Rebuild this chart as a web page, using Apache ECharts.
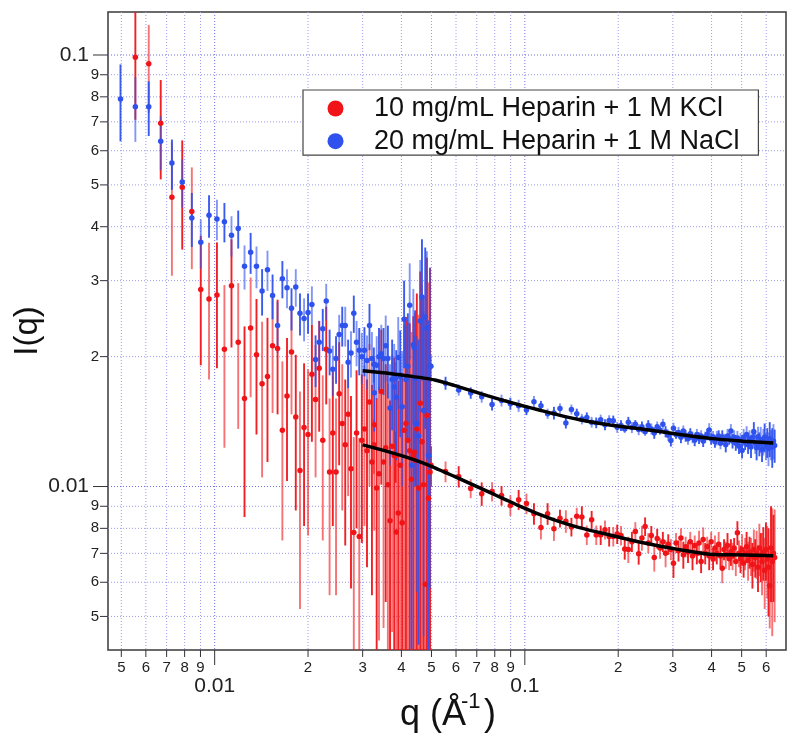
<!DOCTYPE html>
<html><head><meta charset="utf-8">
<script src="https://cdn.jsdelivr.net/npm/echarts@6/dist/echarts.min.js"></script>
<style>html,body{margin:0;padding:0;background:#fff}#c{width:800px;height:743px}</style>
</head><body><div id="c"></div>
<script>
// ---------- data ----------
// low-q data set (q in 1/Angstrom)
const qA = [0.00497,0.00555,0.00613,0.00670,0.00728,0.00786,0.00844,0.00902,0.00959,0.01017,
0.01075,0.01133,0.01191,0.01248,0.01306,0.01364,0.01422,0.01480,0.01537,0.01595,
0.01653,0.01711,0.01769,0.01826,0.01884,0.01942,0.02000,0.02058,0.02115,0.02173,
0.02231,0.02289,0.02347,0.02404,0.02462,0.02520,0.02578,0.02636,0.02693,0.02751,
0.02809,0.02867,0.02925,0.02982,0.03040,0.03098,0.03156,0.03214,0.03271,0.03329,
0.03387,0.03445,0.03503,0.03560,0.03618,0.03676,0.03734,0.03792,0.03849,0.03907,
0.03965,0.04023,0.04081,0.04138,0.04196,0.04254,0.04312,0.04370,0.04427,0.04485,
0.04543,0.04601,0.04659,0.04716,0.04774,0.04832,0.04890,0.04948];
const blueA = [0.0791,0.0759,0.0759,0.0631,0.0562,0.0508,0.0419,0.0368,0.0425,0.0417,
0.0411,0.0382,0.0396,0.0324,0.0349,0.0324,0.0284,0.0318,0.0277,0.0236,
0.0303,0.0289,0.0259,0.0290,0.0252,0.0245,0.0253,0.0264,0.0197,0.0216,
0.0232,0.0269,0.0206,0.0187,0.0198,0.0225,0.0236,0.0236,0.0194,0.0204,
0.0252,0.0216,0.0207,0.0200,0.0207,0.0196,0.0236,0.0198,0.0165,0.0191,
0.0200,0.0203,0.0198,0.0212,0.0198,0.0152,0.0177,0.0170,0.0161,0.0199,
0.0180,0.0153,0.0244,0.0177,0.0190,0.0263,0.0112,0.0213,0.0178,0.0140,
0.0131,0.0242,0.0275,0.0150,0.0247,0.0233,0.0118,0.0190];
const blueAErr = [0.016,0.013,0.011,0.009,0.0075,0.0065,0.006,0.0048,0.0048,0.0045,
0.0043,0.0041,0.0040,0.0038,0.0038,0.0036,0.0035,0.0034,0.0033,0.0032,
0.0030,0.0030,0.0029,0.0029,0.0028,0.0028,0.0027,0.0027,0.0027,0.0026,
0.0026,0.0026,0.0025,0.0025,0.0025,0.0025,0.0025,0.0025,0.0025,0.0025,
0.0025,0.0026,0.0026,0.0027,0.0027,0.0028,0.0029,0.0030,0.0031,0.0032,
0.0033,0.0034,0.0035,0.0037,0.0038,0.0040,0.0042,0.0044,0.0046,0.0048,
0.0050,0.0053,0.0056,0.0059,0.0062,0.0066,0.0070,0.0074,0.0078,0.0083,
0.0088,0.0093,0.0099,0.0105,0.0111,0.0118,0.0125,0.0132];
const redA = [null,0.0988,0.0954,0.0695,0.0468,0.0494,0.0434,0.0286,0.0272,0.0278,
0.0208,0.0292,0.0216,0.0160,0.0233,0.0202,0.0173,0.0180,0.0212,0.0209,
0.0135,0.0162,0.0205,0.0145,0.0109,0.0137,0.0132,0.0182,0.0159,0.0188,
0.0128,0.0208,0.0108,0.0133,0.0108,0.0164,0.0140,0.0125,0.0147,0.0110,
0.00782,0.0133,0.00766,0.0128,0.0136,0.0121,0.0157,0.0114,0.0139,0.00992,
0.0107,0.0166,0.0114,0.0123,0.0101,0.00833,0.0124,0.0118,0.00785,0.00868,
0.0112,0.00824,0.0135,0.0140,0.0128,0.0121,0.0104,0.0118,0.0115,0.0136,
0.00992,0.0156,0.0127,0.0101,0.00594,0.0146,0.00940,0.0108];
const redAErr = [null,0.028,0.022,0.018,0.016,0.014,0.0115,0.0095,0.0095,0.009,
0.0085,0.0082,0.008,0.0075,0.0072,0.007,0.0068,0.0066,0.0064,0.0062,
0.006,0.0059,0.0058,0.0057,0.0057,0.0056,0.0055,0.0055,0.0054,0.0054,
0.0053,0.0053,0.0052,0.0052,0.0052,0.0052,0.0052,0.0052,0.0052,0.0052,
0.0052,0.0053,0.0053,0.0054,0.0055,0.0056,0.0057,0.0058,0.0060,0.0061,
0.0063,0.0065,0.0067,0.0069,0.0072,0.0075,0.0078,0.0081,0.0085,0.0089,
0.0093,0.0097,0.0102,0.0107,0.0112,0.0118,0.0124,0.0130,0.0137,0.0144,
0.0151,0.0159,0.0167,0.0175,0.0184,0.0193,0.0203,0.0213];

// high-q data set
const qB = [0.0326,0.0383,0.0440,0.0498,0.0555,0.0612,0.0669,0.0726,0.0784,0.0841,
0.0898,0.0955,0.1012,0.1070,0.1127,0.1184,0.1241,0.1298,0.1356,0.1413,
0.1470,0.1527,0.1584,0.1642,0.1699,0.1756,0.1813,0.1870,0.1928,0.1985,
0.2042,0.2099,0.2156,0.2214,0.2271,0.2328,0.2385,0.2442,0.2500,0.2557,
0.2614,0.2671,0.2728,0.2786,0.2843,0.2900,0.2957,0.3014,0.3072,0.3129,
0.3186,0.3243,0.3300,0.3358,0.3415,0.3472,0.3529,0.3586,0.3644,0.3701,
0.3758,0.3815,0.3872,0.3930,0.3987,0.4044,0.4101,0.4158,0.4216,0.4273,
0.4330,0.4387,0.4444,0.4502,0.4559,0.4616,0.4673,0.4730,0.4788,0.4845,
0.4902,0.4959,0.5016,0.5074,0.5131,0.5188,0.5245,0.5302,0.5360,0.5417,
0.5474,0.5531,0.5588,0.5646,0.5703,0.5760,0.5817,0.5874,0.5932,0.5989,
0.6046,0.6103,0.6160,0.6218,0.6275,0.6332,0.6389];
const blueB = [0.0192,0.0178,0.0210,0.0190,0.01736,0.01674,0.01647,0.01614,0.01550,0.01583,
0.01556,0.01539,0.01504,0.01572,0.01539,0.01475,0.01480,0.01517,0.01403,0.01509,
0.01475,0.01433,0.01445,0.01410,0.01405,0.01428,0.01391,0.01423,0.01420,0.01372,
0.01385,0.01360,0.01410,0.01370,0.01395,0.01355,0.01375,0.01340,0.01385,0.01360,
0.01330,0.01375,0.01350,0.01395,0.01340,0.01315,0.01278,0.01365,0.01320,0.01335,
0.01300,0.01345,0.01310,0.01290,0.01325,0.01300,0.01280,0.01320,0.01295,0.01310,
0.01275,0.01300,0.01320,0.01352,0.01290,0.01305,0.01270,0.01295,0.01310,0.01260,
0.01300,0.01285,0.01250,0.01310,0.01290,0.01345,0.01275,0.01300,0.01260,0.01295,
0.01240,0.01280,0.01212,0.01300,0.01265,0.01320,0.01250,0.01290,0.01235,0.01300,
0.01340,0.01260,0.01230,0.01305,0.01255,0.01285,0.01220,0.01270,0.01300,0.01240,
0.01265,0.01225,0.01290,0.01250,0.01235,0.01275,0.01245];
const blueBErr = [0.0018,0.0016,0.0014,0.0012,0.0006,0.0005,0.0005,0.0005,0.0005,0.0005,
0.0005,0.0005,0.0004,0.0005,0.0004,0.0004,0.0005,0.0004,0.0004,0.0004,
0.0004,0.0004,0.0004,0.0004,0.0004,0.0004,0.0004,0.0004,0.0004,0.0004,
0.0004,0.0003,0.0004,0.0004,0.0003,0.0004,0.0004,0.0003,0.0004,0.0004,
0.0004,0.0004,0.0003,0.0004,0.0004,0.0004,0.0004,0.0004,0.0003,0.0004,
0.0004,0.0004,0.0004,0.0004,0.0004,0.0004,0.0004,0.0004,0.0004,0.0004,
0.0004,0.0004,0.0004,0.0005,0.0004,0.0004,0.0004,0.0005,0.0004,0.0004,
0.0005,0.0004,0.0005,0.0005,0.0004,0.0005,0.0005,0.0005,0.0005,0.0005,
0.0005,0.0005,0.0005,0.0006,0.0005,0.0006,0.0006,0.0006,0.0007,0.0006,
0.0007,0.0007,0.0008,0.0007,0.0008,0.0009,0.0008,0.0009,0.0010,0.0009,
0.0010,0.0011,0.0012,0.0010,0.0013,0.0012,0.0011];
const redB = [0.0125,0.0118,0.0120,0.0112,0.01083,0.01055,0.00990,0.00962,0.00974,0.00953,
0.00904,0.00932,0.00913,0.00865,0.00804,0.00865,0.00798,0.00844,0.00831,0.00806,
0.00853,0.00850,0.00772,0.00838,0.00772,0.00772,0.00794,0.00766,0.00766,0.00776,
0.00770,0.00717,0.00715,0.00745,0.00787,0.00699,0.00760,0.00808,0.00740,0.00770,
0.00685,0.00758,0.00720,0.00745,0.00700,0.00735,0.00715,0.00664,0.00740,0.00710,
0.00760,0.00695,0.00725,0.00705,0.00745,0.00690,0.00730,0.00700,0.00740,0.00670,
0.00754,0.00700,0.00725,0.00690,0.00745,0.00680,0.00720,0.00700,0.00735,0.00690,
0.00647,0.00715,0.00695,0.00730,0.00680,0.00705,0.00690,0.00720,0.00670,0.00781,
0.00700,0.00680,0.00715,0.00665,0.00700,0.00725,0.00675,0.00705,0.00690,0.00660,
0.00715,0.00685,0.00700,0.00650,0.00720,0.00690,0.00670,0.00705,0.00640,0.00715,
0.00680,0.00650,0.00589,0.00720,0.00670,0.00700,0.00685];
const redBErr = [0.0018,0.0016,0.0014,0.0012,0.0006,0.0006,0.0005,0.0006,0.0005,0.0005,
0.0005,0.0005,0.0005,0.0005,0.0005,0.0005,0.0005,0.0004,0.0005,0.0004,
0.0004,0.0005,0.0004,0.0004,0.0004,0.0004,0.0004,0.0004,0.0004,0.0004,
0.0004,0.0004,0.0005,0.0004,0.0004,0.0004,0.0005,0.0004,0.0004,0.0004,
0.0005,0.0004,0.0004,0.0004,0.0005,0.0004,0.0004,0.0005,0.0004,0.0004,
0.0004,0.0005,0.0004,0.0004,0.0004,0.0005,0.0004,0.0004,0.0005,0.0004,
0.0005,0.0004,0.0004,0.0005,0.0004,0.0004,0.0005,0.0004,0.0005,0.0004,
0.0005,0.0004,0.0005,0.0005,0.0004,0.0005,0.0005,0.0004,0.0005,0.0005,
0.0005,0.0005,0.0006,0.0005,0.0006,0.0006,0.0007,0.0006,0.0007,0.0008,
0.0008,0.0007,0.0009,0.0008,0.0010,0.0009,0.0011,0.0010,0.0012,0.0011,
0.0013,0.0015,0.0012,0.0018,0.0022,0.0016,0.0020];

// model fits
const fitQ    = [0.0300,0.0362,0.0410,0.0464,0.0513,0.0595,0.0673,0.0761,0.0862,0.0976,0.1104,0.1250,0.1500,0.1880,0.2407,0.3085,0.3953,0.5061,0.6324];
const fitBlue = [0.01856,0.01831,0.01808,0.01788,0.01765,0.01713,0.01667,0.01622,0.01580,0.01541,0.01506,0.01472,0.01428,0.01388,0.01358,0.01324,0.01293,0.01274,0.01261];
const fitRed  = [0.01249,0.01205,0.01173,0.01138,0.01105,0.01054,0.01013,0.00973,0.00934,0.00897,0.00864,0.00836,0.00803,0.00772,0.00741,0.00716,0.00697,0.00694,0.00691];

// axis ticks
const xMinorTicks  = [0.005,0.006,0.007,0.008,0.009,0.02,0.03,0.04,0.05,0.06,0.07,0.08,0.09,0.2,0.3,0.4,0.5,0.6];
const xMinorLabels = ['5','6','7','8','9','2','3','4','5','6','7','8','9','2','3','4','5','6'];
const xMajorTicks  = [0.01,0.1];
const xMajorLabels = ['0.01','0.1'];
const yMinorTicks  = [0.005,0.006,0.007,0.008,0.009,0.02,0.03,0.04,0.05,0.06,0.07,0.08,0.09];
const yMinorLabels = ['5','6','7','8','9','2','3','4','5','6','7','8','9'];
const yMajorTicks  = [0.01,0.1];
const yMajorLabels = ['0.01','0.1'];

const seriesNames = ['10 mg/mL Heparin + 1 M KCl','20 mg/mL Heparin + 1 M NaCl'];

// ---------- chart ----------
const X_MIN = 0.00453, X_MAX = 0.695, Y_MIN = 0.00418, Y_MAX = 0.1258;
const FONT = '"Liberation Sans", Arial, Helvetica, sans-serif';
const RED = '#f01418', BLUE = '#2f52ee';
const GRID_MINOR = '#9c9cee', GRID_MAJOR = '#7070e0';

function pts(q, v) { const o = []; q.forEach((x, i) => { if (v[i] != null) o.push([x, v[i]]); }); return o; }
function errs(q, v, e) { const o = []; q.forEach((x, i) => { if (v[i] != null) o.push([x, v[i], e[i]]); }); return o; }

const redPts = pts(qA, redA).concat(pts(qB, redB));
const bluePts = pts(qA, blueA).concat(pts(qB, blueB));
const redErr = errs(qA, redA, redAErr).concat(errs(qB, redB, redBErr));
const blueErr = errs(qA, blueA, blueAErr).concat(errs(qB, blueB, blueBErr));

function errRender(color) {
  return function (params, api) {
    const q = api.value(0), v = api.value(1), e = api.value(2);
    const lo = Math.max(v - e, Y_MIN), hi = Math.min(v + e, Y_MAX);
    const a = api.coord([q, lo]), b = api.coord([q, hi]);
    return { type: 'line', shape: { x1: a[0], y1: a[1], x2: b[0], y2: b[1] },
      style: { stroke: color, lineWidth: 1.9, opacity: params.dataIndex % 2 ? 0.6 : 0.95 } };
  };
}

const xTickData = xMinorTicks.map(t => [t, Y_MIN, 0]).concat(xMajorTicks.map(t => [t, Y_MIN, 1]));
const xTickText = xMinorLabels.concat(xMajorLabels);
const yTickData = yMinorTicks.map(t => [X_MIN, t, 0]).concat(yMajorTicks.map(t => [X_MIN, t, 1]));
const yTickText = yMinorLabels.concat(yMajorLabels);

function xTickRender(params, api) {
  const cs = params.coordSys;
  const major = api.value(2) === 1;
  const x = api.coord([api.value(0), Y_MIN])[0];
  const bottom = cs.y + cs.height;
  return { type: 'group', children: [
    { type: 'line', shape: { x1: x, y1: cs.y, x2: x, y2: bottom },
      style: { stroke: major ? GRID_MAJOR : GRID_MINOR, lineWidth: 1, lineDash: [1, 2] } },
    { type: 'line', shape: { x1: x, y1: bottom, x2: x, y2: bottom + (major ? 15 : 7) },
      style: { stroke: '#333', lineWidth: 1 } },
    { type: 'text', x: x, y: bottom + (major ? 36.5 : 18),
      style: { text: xTickText[params.dataIndex], font: (major ? '21px ' : '15px ') + FONT,
        fill: '#222', align: 'center', verticalAlign: 'middle' } }
  ] };
}
function yTickRender(params, api) {
  const cs = params.coordSys;
  const major = api.value(2) === 1;
  const y = api.coord([X_MIN, api.value(1)])[1];
  const left = cs.x, right = cs.x + cs.width;
  return { type: 'group', children: [
    { type: 'line', shape: { x1: left, y1: y, x2: right, y2: y },
      style: { stroke: major ? GRID_MAJOR : GRID_MINOR, lineWidth: 1, lineDash: [1, 2] } },
    { type: 'line', shape: { x1: left - (major ? 15 : 8), y1: y, x2: left, y2: y },
      style: { stroke: '#333', lineWidth: 1 } },
    { type: 'text', x: left - (major ? 19 : 9), y: y,
      style: { text: yTickText[params.dataIndex], font: (major ? '21px ' : '15px ') + FONT,
        fill: '#222', align: 'right', verticalAlign: 'middle' } }
  ] };
}

const chart = echarts.init(document.getElementById('c'), null, { renderer: 'canvas' });
chart.setOption({
  animation: false,
  backgroundColor: '#ffffff',
  grid: { left: 108, right: 14, top: 12, bottom: 93, show: true, borderColor: '#3a3a3a', borderWidth: 1.5, backgroundColor: 'transparent' },
  xAxis: { type: 'log', logBase: 10, min: X_MIN, max: X_MAX,
    axisLine: { show: false }, axisTick: { show: false }, axisLabel: { show: false }, splitLine: { show: false } },
  yAxis: { type: 'log', logBase: 10, min: Y_MIN, max: Y_MAX,
    axisLine: { show: false }, axisTick: { show: false }, axisLabel: { show: false }, splitLine: { show: false } },
  legend: {
    data: seriesNames, orient: 'vertical', left: 303, top: 90, z: 10,
    backgroundColor: '#ffffff', borderColor: '#444', borderWidth: 1.2, borderRadius: 0,
    padding: [5, 19, 0.5, 24.5], itemGap: 5.7, itemWidth: 16, itemHeight: 16, icon: 'circle',
    textStyle: { fontFamily: FONT, fontSize: 27, color: '#111', lineHeight: 27, padding: [0, 0, 0, 25.5] },
    selectedMode: false
  },
  graphic: [
    { type: 'text', x: 28, y: 331, rotation: Math.PI / 2,
      style: { text: 'I(q)', font: '33px ' + FONT, fill: '#111', align: 'center', verticalAlign: 'middle' } },
    { type: 'text', x: 400, y: 715,
      style: { text: 'q (\u00C5', font: '36px ' + FONT, fill: '#111', align: 'left', verticalAlign: 'middle' } },
    { type: 'text', x: 461, y: 702,
      style: { text: '-1', font: '22px ' + FONT, fill: '#111', align: 'left', verticalAlign: 'middle' } },
    { type: 'text', x: 484, y: 715,
      style: { text: ')', font: '36px ' + FONT, fill: '#111', align: 'left', verticalAlign: 'middle' } }
  ],
  series: [
    { type: 'custom', name: 'xticks', data: xTickData, renderItem: xTickRender, z: 1, clip: false, silent: true },
    { type: 'custom', name: 'yticks', data: yTickData, renderItem: yTickRender, z: 1, clip: false, silent: true },
    { type: 'custom', name: 'redErr', data: redErr, renderItem: errRender(RED), z: 2, silent: true },
    { type: 'custom', name: 'blueErr', data: blueErr, renderItem: errRender(BLUE), z: 3, silent: true },
    { type: 'scatter', name: seriesNames[0], data: redPts, symbol: 'circle', symbolSize: 5.5,
      itemStyle: { color: RED, opacity: 1 }, z: 4, silent: true },
    { type: 'scatter', name: seriesNames[1], data: bluePts, symbol: 'circle', symbolSize: 5.5,
      itemStyle: { color: BLUE, opacity: 1 }, z: 5, silent: true },
    { type: 'line', name: 'fitRed', data: fitQ.map((q, i) => [q, fitRed[i]]), smooth: 0.3, showSymbol: false,
      symbol: 'none', lineStyle: { color: '#000', width: 3.5 }, z: 6, silent: true },
    { type: 'line', name: 'fitBlue', data: fitQ.map((q, i) => [q, fitBlue[i]]), smooth: 0.3, showSymbol: false,
      symbol: 'none', lineStyle: { color: '#000', width: 3.5 }, z: 6, silent: true }
  ]
});
</script>
</body></html>
